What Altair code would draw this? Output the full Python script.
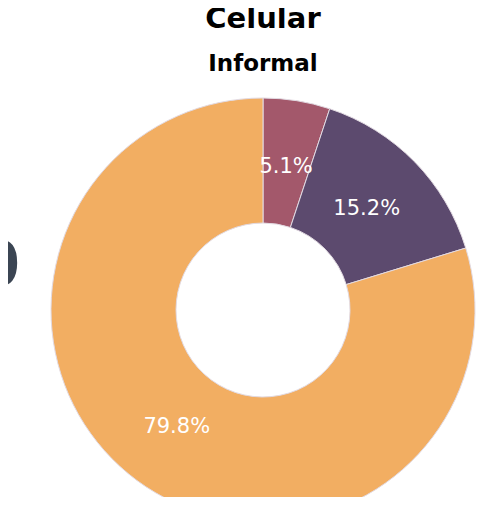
import altair as alt
import pandas as pd

categories = ["Grupo A", "Grupo B", "Grupo C"]
values = [5.1, 15.2, 79.8]
labels = ["5.1%", "15.2%", "79.8%"]
orden = [1, 2, 3]
colors = ["#a3586b", "#5c4a6e", "#f2ae62"]
side_text = ["%"]

df = pd.DataFrame({"categoria": categories, "valor": values, "etiqueta": labels, "orden": orden})

base = alt.Chart(df).encode(
    theta=alt.Theta("valor:Q", stack=True),
    order=alt.Order("orden:Q"),
    detail="categoria:N",
)

arcs = base.mark_arc(outerRadius=212, innerRadius=87, stroke="#e2dae2", strokeWidth=1).encode(
    color=alt.Color("categoria:N", scale=alt.Scale(domain=categories, range=colors), legend=None)
)

text = base.mark_text(radius=145, fontSize=21, font="DejaVu Sans", color="white").encode(
    text="etiqueta:N"
)

side = alt.Chart(pd.DataFrame({"t": side_text})).mark_text(
    font="Liberation Sans", fontWeight="bold", fontSize=110, color="#3b4553",
    align="right", baseline="middle"
).encode(text="t:N", x=alt.value(-12), y=alt.value(130))

chart = alt.layer(arcs, text, side).properties(
    width=462,
    height=374,
    padding={"left": 24, "top": 115, "right": 0, "bottom": 0},
    autosize=alt.AutoSizeParams(type="none"),
    title=alt.TitleParams(
        "Celular",
        subtitle="Informal",
        font="DejaVu Sans",
        fontSize=29,
        fontWeight="bold",
        color="black",
        subtitleFont="DejaVu Sans",
        subtitleFontSize=23,
        subtitleFontWeight="bold",
        subtitleColor="black",
        anchor="middle",
        offset=20,
        subtitlePadding=19,
    ),
).configure_view(stroke=None)

chart.save("out.html", embed_options={"renderer": "svg", "actions": False})
